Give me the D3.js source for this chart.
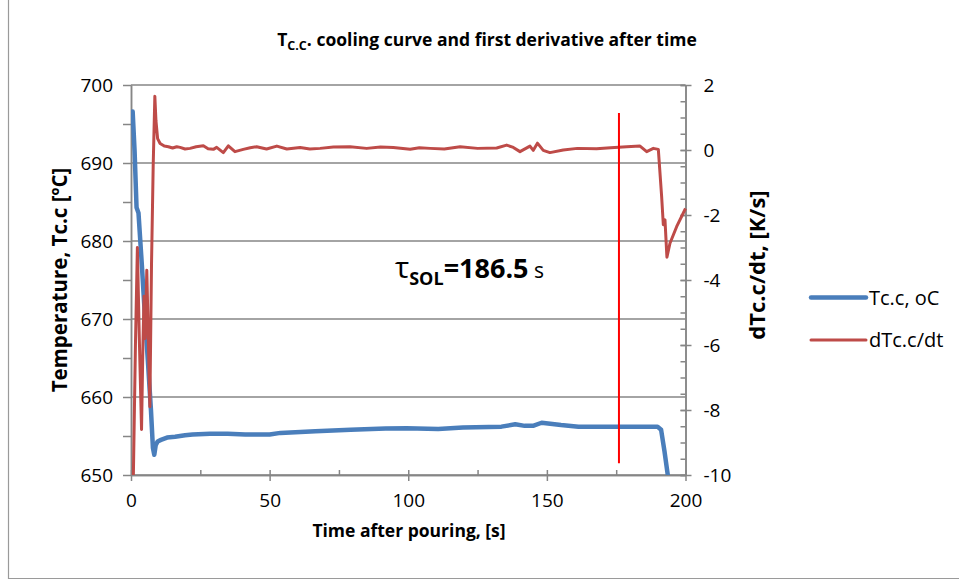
<!DOCTYPE html>
<html>
<head>
<meta charset="utf-8">
<script src="https://cdn.jsdelivr.net/npm/d3@7/dist/d3.min.js"></script>
<style>
	body { margin: 0; background: #fff; }
	text { font-family: "Open Sans", Calibri, sans-serif; fill: #000; }
</style>
</head>
<body>
<div id="chart"></div>
<script>

// cooling curve Tc.c (time s / temperature oC)
const coolTime = [0.6, 1.3, 2.0, 2.7, 3.9, 5.0, 6.2, 7.2, 7.9, 8.4, 8.9, 9.6, 10.8, 13.0, 15.9, 19.5, 22.2, 28.5, 34.9, 41.2, 50.0, 53.9, 66.5, 79.2, 91.8, 99.4, 110.8, 119.7, 133.6, 138.6, 142.0, 145.0, 148.1, 155.1, 161.4, 175.3, 189.9, 191.2, 192.4, 193.8];
const coolTemp = [696.6, 691.5, 684.3, 683.6, 677.0, 670.5, 664.0, 658.3, 653.5, 652.6, 653.8, 654.3, 654.5, 654.8, 654.9, 655.1, 655.2, 655.3, 655.3, 655.2, 655.2, 655.4, 655.6, 655.8, 655.95, 656.0, 655.9, 656.1, 656.2, 656.5, 656.3, 656.3, 656.7, 656.4, 656.2, 656.2, 656.2, 655.8, 653.1, 649.5];

// first derivative dTc.c/dt (K/s)
const derivTime = [0.8, 1.6, 2.3, 3.0, 3.8, 4.3, 4.7, 5.1, 5.7, 6.2, 6.8, 7.4, 8.0, 8.6, 9.0, 9.6, 10.5, 12.0, 13.5, 15.0, 16.5, 17.7, 19.5, 21.3, 23.5, 26.1, 27.8, 29.7, 30.9, 33.3, 35.1, 37.5, 40.5, 43.0, 45.3, 48.9, 52.6, 56.2, 61.0, 64.5, 68.2, 73.0, 79.0, 85.0, 90.0, 94.6, 100.7, 104.0, 107.9, 113.0, 118.7, 125.0, 131.9, 135.5, 137.9, 140.3, 143.9, 145.1, 146.6, 148.7, 151.1, 155.9, 161.0, 167.9, 173.0, 178.8, 183.6, 186.0, 188.4, 190.2, 191.4, 192.0, 192.6, 193.3, 194.4, 196.8, 200.0];
const derivValue = [-10.3, -6.0, -3.0, -5.8, -8.6, -6.0, -4.5, -5.8, -3.7, -5.6, -7.9, -3.5, -0.5, 1.65, 0.9, 0.35, 0.2, 0.12, 0.1, 0.06, 0.1, 0.08, 0.03, 0.05, 0.1, 0.13, 0.04, 0.02, 0.08, -0.08, 0.13, -0.05, 0.02, 0.07, 0.1, 0.03, 0.12, 0.03, 0.08, 0.03, 0.05, 0.09, 0.1, 0.05, 0.09, 0.08, 0.02, 0.07, 0.05, 0.03, 0.1, 0.05, 0.06, 0.15, 0.08, -0.05, 0.12, -0.01, 0.21, -0.01, -0.08, 0.0, 0.05, 0.04, 0.07, 0.1, 0.12, -0.05, 0.05, 0.02, -1.44, -2.3, -2.15, -3.3, -2.87, -2.36, -1.8];

// solidification marker
const solTime = 176;
const solTempRange = [651.5, 696.4];

const timeTicks = [0, 50, 100, 150, 200];
const timeMinor = [25, 75, 125, 175];
const tempTicks = [650, 660, 670, 680, 690, 700];
const tempMinor = [655, 665, 675, 685, 695];
const derivTicks = [-10, -8, -6, -4, -2, 0, 2];
const derivMinor = d3.range(-10, 2.01, 0.5);

const seriesNames = ["Tc.c, oC", "dTc.c/dt"];

class CoolingVis {

	constructor(parentElement) {
		this.parentElement = parentElement;
		this.colors = ["#4a7ebb", "#be4b48"];
		this.initVis();
	}

	initVis() {
		let vis = this;

		vis.width = 959;
		vis.height = 581;
		vis.plot = { left: 131, right: 685.5, top: 85, bottom: 475 };

		vis.svg = d3.select("#" + vis.parentElement).append("svg")
			.attr("width", vis.width)
			.attr("height", vis.height);

		// chart border (left and bottom show in the picture)
		vis.svg.append("path")
			.attr("d", "M8.5,0V578.5H959")
			.attr("fill", "none")
			.attr("stroke", "#9a9a9a")
			.attr("stroke-width", 1.2);

		vis.x = d3.scaleLinear().domain([0, 200]).range([vis.plot.left, vis.plot.right]);
		vis.yLeft = d3.scaleLinear().domain([650, 700]).range([vis.plot.bottom, vis.plot.top]);
		vis.yRight = d3.scaleLinear().domain([-10, 2]).range([vis.plot.bottom, vis.plot.top]);

		// gridlines
		vis.svg.append("g").selectAll("line")
			.data(tempTicks)
			.join("line")
			.attr("x1", vis.plot.left)
			.attr("x2", vis.plot.right)
			.attr("y1", d => vis.yLeft(d))
			.attr("y2", d => vis.yLeft(d))
			.attr("stroke", "#868686")
			.attr("stroke-width", 1.5);

		vis.drawAxes();

		vis.svg.append("clipPath")
			.attr("id", "plotClip")
			.append("rect")
			.attr("x", vis.plot.left)
			.attr("y", vis.plot.top - 10)
			.attr("width", vis.plot.right - vis.plot.left + 2)
			.attr("height", vis.plot.bottom - vis.plot.top + 10);

		let coolData = coolTime.map((t, i) => ({ t: t, v: coolTemp[i] }));
		let derivData = derivTime.map((t, i) => ({ t: t, v: derivValue[i] }));

		let lineLeft = d3.line().x(d => vis.x(d.t)).y(d => vis.yLeft(d.v));
		let lineRight = d3.line().x(d => vis.x(d.t)).y(d => vis.yRight(d.v));

		let lines = vis.svg.append("g").attr("clip-path", "url(#plotClip)");

		lines.append("path")
			.datum(coolData)
			.attr("d", lineLeft)
			.attr("fill", "none")
			.attr("stroke", vis.colors[0])
			.attr("stroke-width", 4.5)
			.attr("stroke-linejoin", "round")
			.attr("stroke-linecap", "round");

		lines.append("path")
			.datum(derivData)
			.attr("d", lineRight)
			.attr("fill", "none")
			.attr("stroke", vis.colors[1])
			.attr("stroke-width", 3)
			.attr("stroke-linejoin", "round");

		// solidification time marker
		vis.svg.append("line")
			.attr("x1", vis.x(solTime))
			.attr("x2", vis.x(solTime))
			.attr("y1", vis.yLeft(solTempRange[1]))
			.attr("y2", vis.yLeft(solTempRange[0]))
			.attr("stroke", "#ff0000")
			.attr("stroke-width", 2);

		vis.drawTexts();
		vis.drawLegend();
	}

	drawAxes() {
		let vis = this;
		let plain = d => String(d);

		let style = g => {
			g.selectAll(".domain").attr("stroke", "#868686").attr("stroke-width", 1.5);
			g.selectAll(".tick line").attr("stroke", "#868686").attr("stroke-width", 1.5);
			g.selectAll(".tick text").attr("font-size", 19).attr("fill", "#000")
				.style("font-family", "'Open Sans', Calibri, sans-serif");
		};

		// time axis: major ticks cross, minor ticks inside
		vis.svg.append("g")
			.attr("transform", `translate(0,${vis.plot.bottom})`)
			.call(d3.axisBottom(vis.x).tickValues(timeMinor).tickSize(-5).tickSizeOuter(0).tickFormat(""))
			.call(style);
		vis.svg.append("g")
			.attr("transform", `translate(0,${vis.plot.bottom})`)
			.call(d3.axisBottom(vis.x).tickValues(timeTicks).tickSize(6).tickSizeOuter(0).tickPadding(13).tickFormat(plain))
			.call(style)
			.call(g => g.selectAll(".tick line").attr("y1", -5));

		// temperature axis: ticks outside
		vis.svg.append("g")
			.attr("transform", `translate(${vis.plot.left},0)`)
			.call(d3.axisLeft(vis.yLeft).tickValues(tempMinor).tickSize(8).tickSizeOuter(0).tickFormat(""))
			.call(style);
		vis.svg.append("g")
			.attr("transform", `translate(${vis.plot.left},0)`)
			.call(d3.axisLeft(vis.yLeft).tickValues(tempTicks).tickSize(8).tickSizeOuter(0).tickPadding(10).tickFormat(plain))
			.call(style);

		// derivative axis: major ticks cross, minor inside
		vis.svg.append("g")
			.attr("transform", `translate(${vis.plot.right},0)`)
			.call(d3.axisLeft(vis.yRight).tickValues(derivMinor).tickSize(5).tickSizeOuter(0).tickFormat(""))
			.call(style);
		vis.svg.append("g")
			.attr("transform", `translate(${vis.plot.right},0)`)
			.call(d3.axisRight(vis.yRight).tickValues(derivTicks).tickSize(6).tickSizeOuter(0).tickPadding(12).tickFormat(plain))
			.call(style)
			.call(g => g.selectAll(".tick line").attr("x1", -5));
	}

	drawTexts() {
		let vis = this;

		let title = vis.svg.append("text")
			.attr("x", 487)
			.attr("y", 46)
			.attr("text-anchor", "middle")
			.attr("font-size", 17.5)
			.attr("font-weight", "bold");
		title.append("tspan").text("T");
		title.append("tspan").attr("font-size", 12.5).attr("dy", 4).text("C.C");
		title.append("tspan").attr("dy", -4).text(". cooling curve and first derivative after time");

		vis.svg.append("text")
			.attr("x", 409)
			.attr("y", 537)
			.attr("text-anchor", "middle")
			.attr("font-size", 17.5)
			.attr("font-weight", "bold")
			.text("Time after pouring, [s]");

		vis.svg.append("text")
			.attr("transform", "translate(67,280) rotate(-90)")
			.attr("text-anchor", "middle")
			.attr("font-size", 20.5)
			.attr("font-weight", "bold")
			.text("Temperature, Tc.c [ºC]");

		vis.svg.append("text")
			.attr("transform", "translate(765,265) rotate(-90)")
			.attr("text-anchor", "middle")
			.attr("font-size", 22)
			.attr("font-weight", "bold")
			.text("dTc.c/dt, [K/s]");

		// solidification time label
		let sol = vis.svg.append("text")
			.attr("x", 395)
			.attr("y", 278)
			.attr("font-size", 27)
			.attr("font-weight", "bold");
		sol.append("tspan").attr("font-weight", "normal").attr("font-size", 30).text("τ");
		sol.append("tspan").attr("font-size", 18).attr("dy", 7).text("SOL");
		sol.append("tspan").attr("dy", -7).text("=186.5");
		sol.append("tspan").attr("font-weight", "normal").attr("font-size", 21).text(" s");
	}

	drawLegend() {
		let vis = this;

		let rows = vis.svg.append("g").selectAll("g")
			.data(seriesNames)
			.join("g")
			.attr("transform", (d, i) => `translate(811,${297.5 + i * 42.5})`);

		rows.append("line")
			.attr("x1", 0)
			.attr("x2", 55)
			.attr("stroke", (d, i) => vis.colors[i])
			.attr("stroke-width", (d, i) => i === 0 ? 4.5 : 3)
			.attr("stroke-linecap", "round");

		rows.append("text")
			.attr("x", 58)
			.attr("dy", "0.35em")
			.attr("font-size", 20)
			.text(d => d);
	}
}

new CoolingVis("chart");

</script>
</body>
</html>
